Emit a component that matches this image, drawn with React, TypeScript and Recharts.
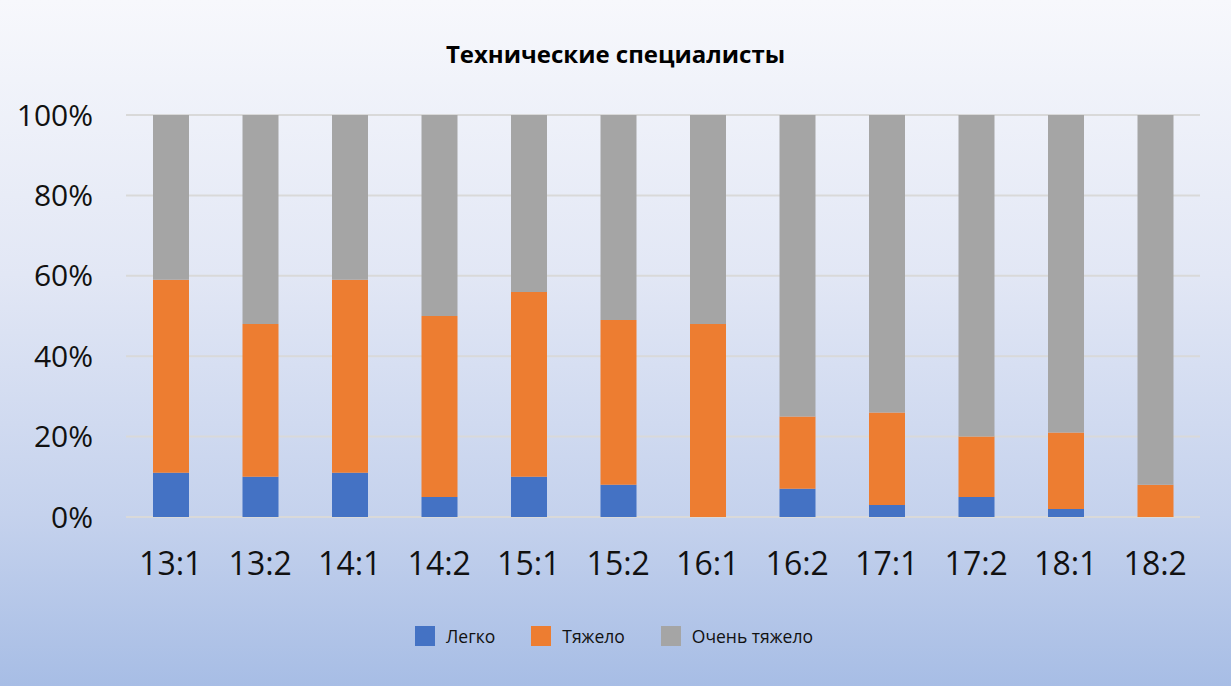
import React from 'react'
import { BarChart, Bar, XAxis, YAxis, CartesianGrid } from 'recharts'

const categories = ['13:1', '13:2', '14:1', '14:2', '15:1', '15:2', '16:1', '16:2', '17:1', '17:2', '18:1', '18:2']
const easy = [11, 10, 11, 5, 10, 8, 0, 7, 3, 5, 2, 0]
const hard = [48, 38, 48, 45, 46, 41, 48, 18, 23, 15, 19, 8]
const veryHard = [41, 52, 41, 50, 44, 51, 52, 75, 74, 80, 79, 92]
const yTicks = [0, 20, 40, 60, 80, 100]

const seriesNames = ['Легко', 'Тяжело', 'Очень тяжело']
const seriesColors = ['#4472C4', '#ED7D31', '#A5A5A5']

const data = categories.map((c, i) => ({
  name: c,
  easy: easy[i],
  hard: hard[i],
  veryHard: veryHard[i],
}))

const font = '"Open Sans", "Segoe UI", sans-serif'

function LegendRow() {
  return (
    <div
      style={{
        position: 'absolute',
        top: 624,
        left: 415,
        display: 'flex',
        alignItems: 'center',
        fontFamily: font,
        fontSize: 17.5,
        color: '#111',
      }}
    >
      {seriesNames.map((n, i) => (
        <div key={n} style={{ display: 'flex', alignItems: 'center', marginRight: 36 }}>
          <span style={{ width: 20, height: 20, background: seriesColors[i], display: 'inline-block', marginRight: 11 }} />
          <span>{n}</span>
        </div>
      ))}
    </div>
  )
}

export default function App() {
  return (
    <div
      style={{
        position: 'fixed',
        left: 0,
        top: 0,
        width: 1231,
        height: 686,
        background: 'linear-gradient(to bottom, #f7f8fc 0%, #e2e7f5 40%, #c5d2ed 75%, #a7bde5 100%)',
        overflow: 'hidden',
      }}
    >
      <div
        style={{
          position: 'absolute',
          top: 37,
          left: 0,
          width: 1231,
          textAlign: 'center',
          fontFamily: font,
          fontWeight: 700,
          fontSize: 24,
          color: '#000',
        }}
      >
        Технические специалисты
      </div>
      <BarChart
        width={1231}
        height={686}
        data={data}
        margin={{ top: 115, right: 31, left: 0, bottom: 139 }}
        barSize={36}
      >
        <CartesianGrid vertical={false} stroke="#d9d9d9" strokeWidth={2} />
        <XAxis
          dataKey="name"
          axisLine={false}
          tickLine={false}
          tickMargin={29}
          tick={{ fontSize: 32, fill: '#111', fontFamily: font }}
        />
        <YAxis
          width={126}
          domain={[0, 100]}
          ticks={yTicks}
          axisLine={false}
          tickLine={false}
          tickMargin={27}
          tickFormatter={(v) => `${v}%`}
          tick={{ fontSize: 30, fill: '#111', fontFamily: font }}
        />
        <Bar dataKey="easy" stackId="a" fill={seriesColors[0]} isAnimationActive={false} />
        <Bar dataKey="hard" stackId="a" fill={seriesColors[1]} isAnimationActive={false} />
        <Bar dataKey="veryHard" stackId="a" fill={seriesColors[2]} isAnimationActive={false} />
      </BarChart>
      <LegendRow />
    </div>
  )
}
